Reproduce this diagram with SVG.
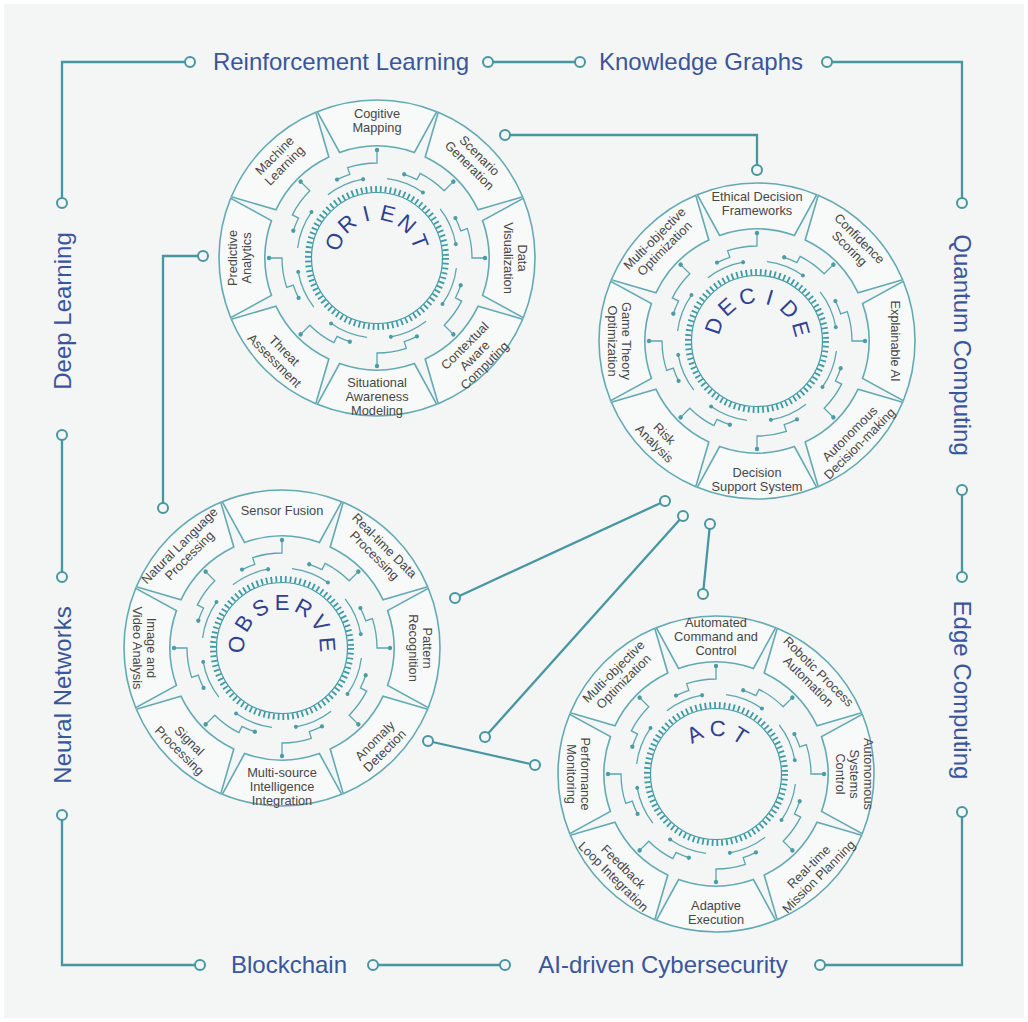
<svg xmlns="http://www.w3.org/2000/svg" xmlns:xlink="http://www.w3.org/1999/xlink" width="1028" height="1022" viewBox="0 0 1028 1022">
  <style>
    .seg{fill:#f8f9f9;stroke:#63aab2;stroke-width:1.6}
    .trk{fill:none;stroke:#5ba6ae;stroke-width:1.3}
    .dot{fill:#4b9ca5}
    .tick{fill:none;stroke:#3f9ba4;stroke-width:6;stroke-dasharray:1.8 3.017}
    .ring{fill:none;stroke:#3f9ba4;stroke-width:1.2}
    .lbl{font-family:"Liberation Sans",Arial,sans-serif;font-size:12.8px;fill:#474747;text-anchor:middle}
    .big{font-family:"Liberation Sans",Arial,sans-serif;font-size:22px;fill:#2f4191;text-anchor:middle}
    .cap{font-family:"Liberation Sans",Arial,sans-serif;font-size:24px;fill:#3a559c;text-anchor:middle}
    .link{fill:none;stroke:#4796a0;stroke-width:2.3}
    .end{fill:#f4f5f5;stroke:#4796a0;stroke-width:2}
  </style>
  <defs>
    <!-- one annular segment, centred on the upward direction -->
    <path id="sector" class="seg" d="M-59.70 -146.29 A158 158 0 0 1 59.70 -146.29 L37.39 -105.58 A112 112 0 0 0 -37.39 -105.58 Z"/>
    <!-- one repeat of the circuit traces between the segments and the gear -->
    <g id="trace">
      <!-- stub from the segment, bending onto the outer track -->
      <path class="trk" d="M0 -108 V-95 A95 95 0 0 0 -29.36 -90.35 L-27.19 -83.68 A88 88 0 0 0 -39.96 -78.40"/>
      <!-- inner track segment next to the gear -->
      <path class="trk" d="M9.96 -79.37 A80 80 0 0 1 45.89 -65.53"/>
      <circle class="dot" cx="0" cy="-108" r="2.2"/>
      <circle class="dot" cx="-39.96" cy="-78.40" r="2.1"/>
      <circle class="dot" cx="45.89" cy="-65.53" r="2"/>
    </g>
    <g id="wheel">
      <use href="#sector"/>
      <use href="#sector" transform="rotate(45)"/>
      <use href="#sector" transform="rotate(90)"/>
      <use href="#sector" transform="rotate(135)"/>
      <use href="#sector" transform="rotate(180)"/>
      <use href="#sector" transform="rotate(225)"/>
      <use href="#sector" transform="rotate(270)"/>
      <use href="#sector" transform="rotate(315)"/>
      <use href="#trace"/>
      <use href="#trace" transform="rotate(45)"/>
      <use href="#trace" transform="rotate(90)"/>
      <use href="#trace" transform="rotate(135)"/>
      <use href="#trace" transform="rotate(180)"/>
      <use href="#trace" transform="rotate(225)"/>
      <use href="#trace" transform="rotate(270)"/>
      <use href="#trace" transform="rotate(315)"/>
      <circle class="tick" r="69"/>
      <circle class="ring" r="65.5"/>
    </g>
  </defs>

  <rect width="1028" height="1022" fill="#ffffff"/>
  <rect x="4" y="4" width="1020" height="1014" fill="#f4f5f5"/>

  <!-- connectors: outer frame and links between the wheels -->
  <g id="connectors">
    <path class="link" d="M190 62 H62 V203"/>
    <path class="link" d="M488 62 H580"/>
    <path class="link" d="M827 62 H962 V203"/>
    <path class="link" d="M62 435 V577"/>
    <path class="link" d="M962 490 V577"/>
    <path class="link" d="M62 815 V965 H200"/>
    <path class="link" d="M373 965 H505"/>
    <path class="link" d="M820 965 H962 V812"/>
    <path class="link" d="M505 135 H757 V170"/>
    <path class="link" d="M203 256 H163 V508"/>
    <path class="link" d="M665 501 L455 598"/>
    <path class="link" d="M683 516 L485 737"/>
    <path class="link" d="M710 524 L703 594"/>
    <path class="link" d="M428 741 L535 765"/>
    <circle class="end" cx="190" cy="62" r="5"/>
    <circle class="end" cx="488" cy="62" r="5"/>
    <circle class="end" cx="580" cy="62" r="5"/>
    <circle class="end" cx="827" cy="62" r="5"/>
    <circle class="end" cx="62" cy="203" r="5"/>
    <circle class="end" cx="962" cy="203" r="5"/>
    <circle class="end" cx="62" cy="435" r="5"/>
    <circle class="end" cx="62" cy="577" r="5"/>
    <circle class="end" cx="962" cy="490" r="5"/>
    <circle class="end" cx="962" cy="577" r="5"/>
    <circle class="end" cx="62" cy="815" r="5"/>
    <circle class="end" cx="962" cy="812" r="5"/>
    <circle class="end" cx="200" cy="965" r="5"/>
    <circle class="end" cx="373" cy="965" r="5"/>
    <circle class="end" cx="505" cy="965" r="5"/>
    <circle class="end" cx="820" cy="965" r="5"/>
    <circle class="end" cx="505" cy="135" r="5"/>
    <circle class="end" cx="757" cy="170" r="5"/>
    <circle class="end" cx="203" cy="256" r="5"/>
    <circle class="end" cx="163" cy="508" r="5"/>
    <circle class="end" cx="665" cy="501" r="5"/>
    <circle class="end" cx="455" cy="598" r="5"/>
    <circle class="end" cx="683" cy="516" r="5"/>
    <circle class="end" cx="485" cy="737" r="5"/>
    <circle class="end" cx="710" cy="524" r="5"/>
    <circle class="end" cx="703" cy="594" r="5"/>
    <circle class="end" cx="428" cy="741" r="5"/>
    <circle class="end" cx="535" cy="765" r="5"/>
  </g>

  <!-- technology labels around the frame -->
  <g id="reinforcement-learning"><text class="cap" x="341" y="70">Reinforcement Learning</text></g>
  <g id="knowledge-graphs"><text class="cap" x="701" y="70">Knowledge Graphs</text></g>
  <g id="blockchain"><text class="cap" x="289" y="973">Blockchain</text></g>
  <g id="ai-cybersecurity"><text class="cap" x="663" y="973">AI-driven Cybersecurity</text></g>
  <g id="deep-learning"><text class="cap" transform="translate(62,311) rotate(-90)" y="8.5">Deep Learning</text></g>
  <g id="neural-networks"><text class="cap" transform="translate(62,695) rotate(-90)" y="8.5">Neural Networks</text></g>
  <g id="quantum-computing"><text class="cap" transform="translate(962,345) rotate(90)" y="8.5">Quantum Computing</text></g>
  <g id="edge-computing"><text class="cap" transform="translate(962,690) rotate(90)" y="8.5">Edge Computing</text></g>

  <!-- ORIENT wheel -->
  <g id="orient" transform="translate(377,258)">
    <use href="#wheel"/>
    <text class="big" transform="rotate(-68.75) translate(0,-38)">O</text>
    <text class="big" transform="rotate(-41.25) translate(0,-38)">R</text>
    <text class="big" transform="rotate(-13.75) translate(0,-38)">I</text>
    <text class="big" transform="rotate(13.75) translate(0,-38)">E</text>
    <text class="big" transform="rotate(41.25) translate(0,-38)">N</text>
    <text class="big" transform="rotate(68.75) translate(0,-38)">T</text>
    <text class="lbl" transform="translate(0,-138)"><tspan x="0" y="-2.5">Cogitive</tspan><tspan x="0" y="11.5">Mapping</tspan></text>
    <text class="lbl" transform="translate(97.58,-97.58) rotate(45)"><tspan x="0" y="-2.5">Scenario</tspan><tspan x="0" y="11.5">Generation</tspan></text>
    <text class="lbl" transform="translate(138,0) rotate(90)"><tspan x="0" y="-2.5">Data</tspan><tspan x="0" y="11.5">Visualization</tspan></text>
    <text class="lbl" transform="translate(97.58,97.58) rotate(-45)"><tspan x="0" y="-9.5">Contextual</tspan><tspan x="0" y="4.5">Aware</tspan><tspan x="0" y="18.5">Computing</tspan></text>
    <text class="lbl" transform="translate(0,138)"><tspan x="0" y="-9.5">Situational</tspan><tspan x="0" y="4.5">Awareness</tspan><tspan x="0" y="18.5">Modeling</tspan></text>
    <text class="lbl" transform="translate(-97.58,97.58) rotate(45)"><tspan x="0" y="-2.5">Threat</tspan><tspan x="0" y="11.5">Assessment</tspan></text>
    <text class="lbl" transform="translate(-138,0) rotate(-90)"><tspan x="0" y="-2.5">Predictive</tspan><tspan x="0" y="11.5">Analytics</tspan></text>
    <text class="lbl" transform="translate(-97.58,-97.58) rotate(-45)"><tspan x="0" y="-2.5">Machine</tspan><tspan x="0" y="11.5">Learning</tspan></text>
  </g>

  <!-- DECIDE wheel -->
  <g id="decide" transform="translate(757,341)">
    <use href="#wheel"/>
    <text class="big" transform="rotate(-70.5) translate(0,-38)">D</text>
    <text class="big" transform="rotate(-41.5) translate(0,-38)">E</text>
    <text class="big" transform="rotate(-12.5) translate(0,-38)">C</text>
    <text class="big" transform="rotate(16.5) translate(0,-38)">I</text>
    <text class="big" transform="rotate(45.5) translate(0,-38)">D</text>
    <text class="big" transform="rotate(74.5) translate(0,-38)">E</text>
    <text class="lbl" transform="translate(0,-138)"><tspan x="0" y="-2.5">Ethical Decision</tspan><tspan x="0" y="11.5">Frameworks</tspan></text>
    <text class="lbl" transform="translate(97.58,-97.58) rotate(45)"><tspan x="0" y="-2.5">Confidence</tspan><tspan x="0" y="11.5">Scoring</tspan></text>
    <text class="lbl" transform="translate(138,0) rotate(90)"><tspan x="0" y="4.5">Explainable AI</tspan></text>
    <text class="lbl" transform="translate(97.58,97.58) rotate(-45)"><tspan x="0" y="-2.5">Autonomous</tspan><tspan x="0" y="11.5">Decision-making</tspan></text>
    <text class="lbl" transform="translate(0,138)"><tspan x="0" y="-2.5">Decision</tspan><tspan x="0" y="11.5">Support System</tspan></text>
    <text class="lbl" transform="translate(-97.58,97.58) rotate(45)"><tspan x="0" y="-2.5">Risk</tspan><tspan x="0" y="11.5">Analysis</tspan></text>
    <text class="lbl" transform="translate(-138,0) rotate(90)"><tspan x="0" y="-2.5">Game Theory</tspan><tspan x="0" y="11.5">Optimization</tspan></text>
    <text class="lbl" transform="translate(-97.58,-97.58) rotate(-45)"><tspan x="0" y="-2.5">Multi-objective</tspan><tspan x="0" y="11.5">Optimization</tspan></text>
  </g>

  <!-- OBSERVE wheel -->
  <g id="observe" transform="translate(282,648)">
    <use href="#wheel"/>
    <text class="big" transform="rotate(-85.5) translate(0,-38)">O</text>
    <text class="big" transform="rotate(-57) translate(0,-38)">B</text>
    <text class="big" transform="rotate(-28.5) translate(0,-38)">S</text>
    <text class="big" transform="rotate(0) translate(0,-38)">E</text>
    <text class="big" transform="rotate(28.5) translate(0,-38)">R</text>
    <text class="big" transform="rotate(57) translate(0,-38)">V</text>
    <text class="big" transform="rotate(85.5) translate(0,-38)">E</text>
    <text class="lbl" transform="translate(0,-138)"><tspan x="0" y="4.5">Sensor Fusion</tspan></text>
    <text class="lbl" transform="translate(97.58,-97.58) rotate(45)"><tspan x="0" y="-2.5">Real-time Data</tspan><tspan x="0" y="11.5">Processing</tspan></text>
    <text class="lbl" transform="translate(138,0) rotate(90)"><tspan x="0" y="-2.5">Pattern</tspan><tspan x="0" y="11.5">Recognition</tspan></text>
    <text class="lbl" transform="translate(97.58,97.58) rotate(-45)"><tspan x="0" y="-2.5">Anomaly</tspan><tspan x="0" y="11.5">Detection</tspan></text>
    <text class="lbl" transform="translate(0,138)"><tspan x="0" y="-9.5">Multi-source</tspan><tspan x="0" y="4.5">Intelligence</tspan><tspan x="0" y="18.5">Integration</tspan></text>
    <text class="lbl" transform="translate(-97.58,97.58) rotate(45)"><tspan x="0" y="-2.5">Signal</tspan><tspan x="0" y="11.5">Processing</tspan></text>
    <text class="lbl" transform="translate(-138,0) rotate(90)"><tspan x="0" y="-2.5">Image and</tspan><tspan x="0" y="11.5">Video Analysis</tspan></text>
    <text class="lbl" transform="translate(-97.58,-97.58) rotate(-45)"><tspan x="0" y="-2.5">Natural Language</tspan><tspan x="0" y="11.5">Processing</tspan></text>
  </g>

  <!-- ACT wheel -->
  <g id="act" transform="translate(716,774)">
    <use href="#wheel"/>
    <text class="big" transform="rotate(-28) translate(0,-38)">A</text>
    <text class="big" transform="rotate(2) translate(0,-38)">C</text>
    <text class="big" transform="rotate(32) translate(0,-38)">T</text>
    <text class="lbl" transform="translate(0,-138)"><tspan x="0" y="-9.5">Automated</tspan><tspan x="0" y="4.5">Command and</tspan><tspan x="0" y="18.5">Control</tspan></text>
    <text class="lbl" transform="translate(97.58,-97.58) rotate(45)"><tspan x="0" y="-2.5">Robotic Process</tspan><tspan x="0" y="11.5">Automation</tspan></text>
    <text class="lbl" transform="translate(138,0) rotate(90)"><tspan x="0" y="-9.5">Autonomous</tspan><tspan x="0" y="4.5">Systems</tspan><tspan x="0" y="18.5">Control</tspan></text>
    <text class="lbl" transform="translate(97.58,97.58) rotate(-45)"><tspan x="0" y="-2.5">Real-time</tspan><tspan x="0" y="11.5">Mission Planning</tspan></text>
    <text class="lbl" transform="translate(0,138)"><tspan x="0" y="-2.5">Adaptive</tspan><tspan x="0" y="11.5">Execution</tspan></text>
    <text class="lbl" transform="translate(-97.58,97.58) rotate(45)"><tspan x="0" y="-2.5">Feedback</tspan><tspan x="0" y="11.5">Loop Integration</tspan></text>
    <text class="lbl" transform="translate(-138,0) rotate(90)"><tspan x="0" y="-2.5">Performance</tspan><tspan x="0" y="11.5">Monitoring</tspan></text>
    <text class="lbl" transform="translate(-97.58,-97.58) rotate(-45)"><tspan x="0" y="-2.5">Multi-objective</tspan><tspan x="0" y="11.5">Optimization</tspan></text>
  </g>
</svg>
